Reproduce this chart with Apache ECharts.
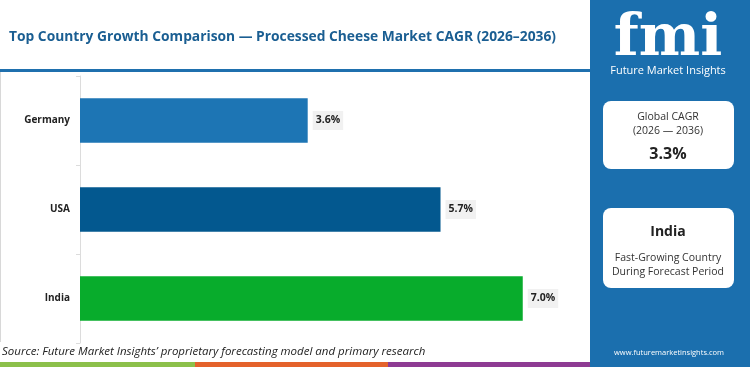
<!DOCTYPE html>
<html>
<head>
<meta charset="utf-8">
<script src="https://cdn.jsdelivr.net/npm/echarts@6/dist/echarts.min.js"></script>
<style>
  html, body { margin: 0; padding: 0; background: #fff; }
  #chart { width: 750px; height: 367px; }
</style>
</head>
<body>
<div id="chart"></div>
<script>
const countries = ['Germany', 'USA', 'India']
const cagrValues = [3.6, 5.7, 7.0]
const barColors = ['#1d75b4', '#03588f', '#08ac2c']
const globalCagr = '3.3%'
const fastestCountry = 'India'

const FONT = '"Open Sans", sans-serif'
const PANEL_BLUE = '#1b6fae'

const chart = echarts.init(document.getElementById('chart'))

const option = {
  backgroundColor: '#fff',
  animation: false,
  grid: { left: 80, right: 164, top: 76, bottom: 24 },
  xAxis: {
    type: 'value',
    min: 0,
    max: 8,
    show: false
  },
  yAxis: {
    type: 'category',
    inverse: true,
    data: countries,
    axisLine: { lineStyle: { color: '#dcdcdc', width: 1 } },
    axisTick: { show: true, length: 4, lineStyle: { color: '#dcdcdc' } },
    axisLabel: {
      color: '#222',
      fontFamily: FONT,
      fontWeight: 'bold',
      fontSize: 10,
      margin: 10
    }
  },
  series: [{
    type: 'bar',
    barWidth: '50%',
    data: cagrValues.map((v, i) => ({ value: v, itemStyle: { color: barColors[i] } })),
    label: {
      show: true,
      position: 'right',
      distance: 5,
      formatter: p => p.value.toFixed(1) + '%',
      color: '#222',
      fontFamily: FONT,
      fontWeight: 'bold',
      fontSize: 10.5,
      backgroundColor: '#f1f1f1',
      padding: [4, 3]
    }
  }],
  graphic: [
    // title + rule
    { type: 'text', x: 9, y: 37, style: { text: 'Top Country Growth Comparison — Processed Cheese Market CAGR (2026–2036)', fill: '#1a5e92', font: 'bold 13.8px ' + FONT, verticalAlign: 'middle' } },
    { type: 'rect', shape: { x: 0, y: 69, width: 591, height: 3 }, style: { fill: '#1f70ae' } },
    { type: 'rect', shape: { x: 0, y: 72, width: 1, height: 270 }, style: { fill: '#d8d8d8' } },
    // source
    { type: 'text', left: 2, top: 346, style: { text: 'Source: Future Market Insights’ proprietary forecasting model and primary research', fill: '#222', font: 'italic 11.5px ' + FONT } },
    // bottom stripe
    { type: 'rect', shape: { x: 0, y: 362, width: 195, height: 5 }, style: { fill: '#8cc04a' } },
    { type: 'rect', shape: { x: 195, y: 362, width: 193, height: 5 }, style: { fill: '#e4622b' } },
    { type: 'rect', shape: { x: 388, y: 362, width: 202, height: 5 }, style: { fill: '#8e3b93' } },
    // right panel
    { type: 'rect', shape: { x: 590, y: 0, width: 160, height: 367 }, style: { fill: PANEL_BLUE } },
    { type: 'text', x: 668, y: 40, style: { text: 'fmi', fill: '#fff', font: 'bold 58px "DejaVu Serif", serif', align: 'center', verticalAlign: 'middle' } },
    { type: 'text', x: 668, y: 71, style: { text: 'Future Market Insights', fill: '#fff', font: '11px ' + FONT, align: 'center', verticalAlign: 'middle' } },
    // card 1
    { type: 'rect', shape: { x: 603, y: 101, width: 131, height: 68, r: 8 }, style: { fill: '#fff' } },
    { type: 'text', x: 668, y: 117, style: { text: 'Global CAGR', fill: '#333', font: '10.5px ' + FONT, align: 'center', verticalAlign: 'middle' } },
    { type: 'text', x: 668, y: 131, style: { text: '(2026 — 2036)', fill: '#333', font: '10.5px ' + FONT, align: 'center', verticalAlign: 'middle' } },
    { type: 'text', x: 668, y: 154, style: { text: globalCagr, fill: '#222', font: 'bold 16px ' + FONT, align: 'center', verticalAlign: 'middle' } },
    // card 2
    { type: 'rect', shape: { x: 603, y: 208, width: 131, height: 80, r: 8 }, style: { fill: '#fff' } },
    { type: 'text', x: 668, y: 232, style: { text: fastestCountry, fill: '#222', font: 'bold 14px ' + FONT, align: 'center', verticalAlign: 'middle' } },
    { type: 'text', x: 668, y: 258, style: { text: 'Fast-Growing Country', fill: '#333', font: '10.5px ' + FONT, align: 'center', verticalAlign: 'middle' } },
    { type: 'text', x: 668, y: 272, style: { text: 'During Forecast Period', fill: '#333', font: '10.5px ' + FONT, align: 'center', verticalAlign: 'middle' } },
    { type: 'text', x: 669, y: 353, style: { text: 'www.futuremarketinsights.com', fill: '#fff', font: '7.5px ' + FONT, align: 'center', verticalAlign: 'middle' } }
  ]
}

chart.setOption(option)
</script>
</body>
</html>
